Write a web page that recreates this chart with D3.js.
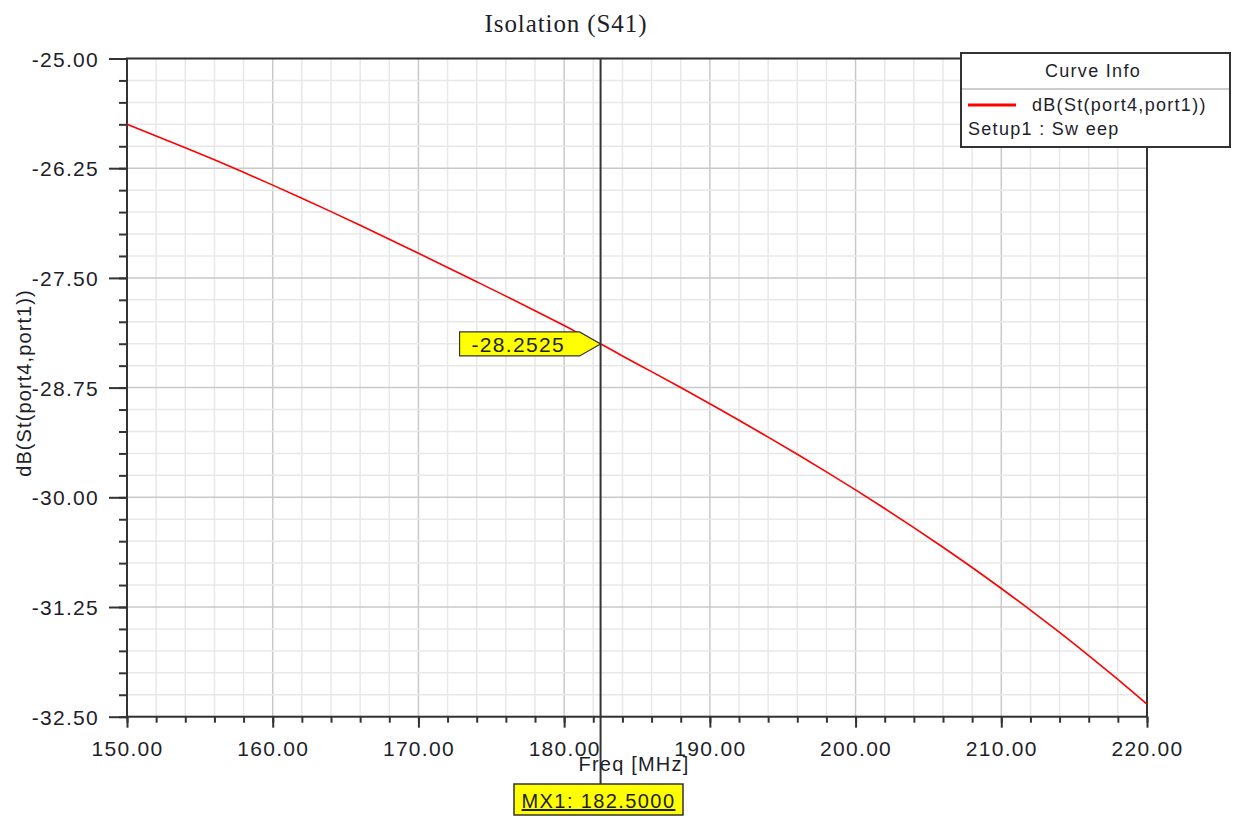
<!DOCTYPE html>
<html><head><meta charset="utf-8">
<script src="https://cdn.jsdelivr.net/npm/d3@7"></script>
<style>
body{margin:0;background:#fff;}
text{font-family:Arial,"Liberation Sans",sans-serif;fill:#1e1e2a;}
</style></head>
<body><svg id="c" width="1237" height="816"></svg>
<script>
const freqs = [150,152,154,156,158,160,162,164,166,168,170,172,174,176,178,180,182,182.5,184,186,188,190,192,194,196,198,200,202,204,206,208,210,212,214,216,218,220];
const s41   = [-25.750,-25.882,-26.017,-26.155,-26.297,-26.443,-26.592,-26.745,-26.901,-27.059,-27.219,-27.381,-27.544,-27.708,-27.874,-28.043,-28.215,-28.2525,-28.390,-28.568,-28.749,-28.934,-29.122,-29.314,-29.510,-29.711,-29.916,-30.128,-30.345,-30.569,-30.800,-31.039,-31.285,-31.540,-31.804,-32.076,-32.356];
const xTicks = [150,160,170,180,190,200,210,220];
const yTicks = [-25,-26.25,-27.5,-28.75,-30,-31.25,-32.5];
const markerFreq = 182.5;
const markerVal = -28.2525;
const title = "Isolation (S41)";
const xLabel = "Freq [MHz]";
const yLabel = "dB(St(port4,port1))";
const legendTitle = "Curve Info";
const legendSeries = "dB(St(port4,port1))";
const legendSetup = "Setup1 : Sw eep";

const fmt = n => d => d3.format("." + n + "f")(d).replace("\u2212", "-");

const svg = d3.select("#c");
const L=127, R=1147, T=58.5, B=716.7;
const x = d3.scaleLinear().domain([150,220]).range([L,R]);
const y = d3.scaleLinear().domain([-25,-32.5]).range([T,B]);

const xMinor = d3.range(150,220.001,2);
const yMinor = d3.range(0,31).map(i=>-25-i*0.25);

// grid
const g = svg.append("g");
g.selectAll(".vm").data(xMinor).enter().append("line")
  .attr("x1",d=>x(d)).attr("x2",d=>x(d)).attr("y1",T).attr("y2",B)
  .attr("stroke",d=>xTicks.includes(d)?"#c9c9c9":"#e8e8e8").attr("stroke-width",1.5);
g.selectAll(".hm").data(yMinor).enter().append("line")
  .attr("y1",d=>y(d)).attr("y2",d=>y(d)).attr("x1",L).attr("x2",R)
  .attr("stroke",(d,i)=>i%5===0?"#c9c9c9":"#e8e8e8").attr("stroke-width",1.5);

// axes
function styleAxis(sel){
  sel.select(".domain").remove();
  sel.selectAll(".tick line").attr("stroke","#333").attr("stroke-width",2);
  sel.selectAll(".tick text").style("font-size","21px").style("letter-spacing","1.3px").attr("fill","#1e1e2a");
}
const ax = svg.append("g").attr("transform",`translate(0,${B})`)
  .call(d3.axisBottom(x).tickValues(xTicks).tickSize(11).tickPadding(10).tickFormat(fmt(2)));
styleAxis(ax);
ax.selectAll(".tick text").attr("dy","0.85em");
const axm = svg.append("g").attr("transform",`translate(0,${B})`)
  .call(d3.axisBottom(x).tickValues(xMinor).tickSize(6).tickFormat(""));
styleAxis(axm);

const ay = svg.append("g").attr("transform",`translate(${L},0)`)
  .call(d3.axisLeft(y).tickValues(yTicks).tickSize(18).tickPadding(10).tickFormat(fmt(2)));
styleAxis(ay);
ay.selectAll(".tick text").attr("dy","0.36em");
const aym = svg.append("g").attr("transform",`translate(${L},0)`)
  .call(d3.axisLeft(y).tickValues(yMinor).tickSize(8).tickFormat(""));
styleAxis(aym);

// frame
svg.append("rect").attr("x",L).attr("y",T).attr("width",R-L).attr("height",B-T)
  .attr("fill","none").attr("stroke","#333").attr("stroke-width",2);

// curve
svg.append("path").datum(freqs.map((f,i)=>[f,s41[i]]))
  .attr("d",d3.line().x(d=>x(d[0])).y(d=>y(d[1])).curve(d3.curveMonotoneX))
  .attr("fill","none").attr("stroke","#ff0000").attr("stroke-width",1.6);

// marker line
const mx = x(markerFreq), my = y(markerVal);
svg.append("line").attr("x1",mx).attr("x2",mx).attr("y1",T).attr("y2",784)
  .attr("stroke","#333").attr("stroke-width",2);

// marker value flag
svg.append("path")
  .attr("d",`M${mx-141},${my-12} L${mx-21},${my-12} L${mx},${my} L${mx-21},${my+12} L${mx-141},${my+12} Z`)
  .attr("fill","#ffff00").attr("stroke","#333").attr("stroke-width",1.2);
svg.append("text").attr("x",mx-129).attr("y",my+8).text(fmt(4)(markerVal))
  .style("font-size","21px").style("letter-spacing","1.3px");

// MX1 box
svg.append("rect").attr("x",514).attr("y",784).attr("width",169).attr("height",31)
  .attr("fill","#ffff00").attr("stroke","#333").attr("stroke-width",1.5);
svg.append("text").attr("x",598.5).attr("y",808).attr("text-anchor","middle")
  .text("MX1: "+fmt(4)(markerFreq))
  .style("font-size","20px").style("letter-spacing","1.4px").style("text-decoration","underline");

// titles
svg.append("text").attr("x",566).attr("y",32).attr("text-anchor","middle").text(title)
  .style("font-family","'Liberation Serif','Times New Roman',serif").style("font-size","25px").style("letter-spacing","0.9px");
svg.append("text").attr("x",634).attr("y",771).attr("text-anchor","middle").text(xLabel)
  .style("font-size","20px").style("letter-spacing","1.2px");
svg.append("text").attr("transform","translate(31,383) rotate(-90)").attr("text-anchor","middle").text(yLabel)
  .style("font-size","20px").style("letter-spacing","1.1px");

// legend
svg.append("rect").attr("x",961).attr("y",53).attr("width",269).attr("height",94)
  .attr("fill","#fff").attr("stroke","#333").attr("stroke-width",2);
svg.append("line").attr("x1",962).attr("x2",1229).attr("y1",89).attr("y2",89)
  .attr("stroke","#bdbdbd").attr("stroke-width",1.5);
svg.append("text").attr("x",1093).attr("y",77).attr("text-anchor","middle").text(legendTitle)
  .style("font-size","18px").style("letter-spacing","1.3px");
svg.append("line").attr("x1",968).attr("x2",1016).attr("y1",105).attr("y2",105)
  .attr("stroke","#ff0000").attr("stroke-width",3);
svg.append("text").attr("x",1032).attr("y",111).text(legendSeries)
  .style("font-size","18px").style("letter-spacing","1.3px");
svg.append("text").attr("x",968).attr("y",135).text(legendSetup)
  .style("font-size","18px").style("letter-spacing","1.3px");
</script></body></html>
